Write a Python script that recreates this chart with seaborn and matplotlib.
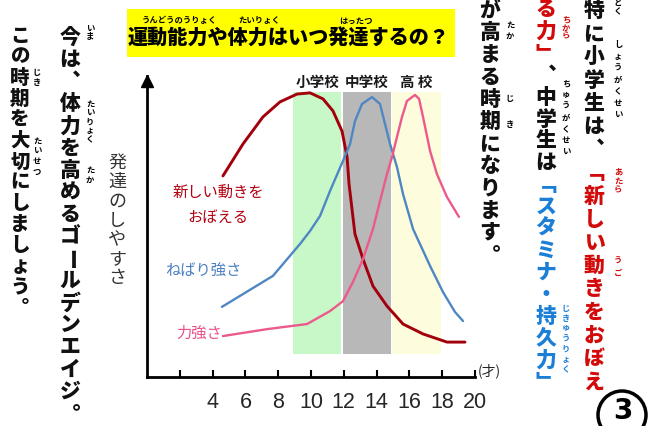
import matplotlib
matplotlib.use("Agg")
import matplotlib.pyplot as plt
import seaborn as sns
import pandas as pd
from matplotlib.patches import Rectangle, Ellipse

# ---------------------------------------------------------------- data
# ease of development (0-100) by age for each ability
motor_age = [4.63, 5.85, 7.07, 8.11, 9.15, 9.94, 10.73, 11.34, 11.89, 12.20, 12.32,
             12.68, 13.17, 13.78, 14.63, 15.61, 16.83, 18.29, 19.39]
motor_val = [66.8, 77.4, 86.4, 91.4, 94.0, 94.4, 92.4, 88.4, 81.7, 73.1, 64.1,
             47.5, 39.2, 30.2, 23.6, 17.6, 14.3, 11.6, 11.6]

stamina_age = [4.57, 7.68, 9.33, 9.94, 10.55, 11.16, 11.95, 12.38, 12.68, 13.11, 13.72,
               14.21, 14.51, 14.82, 15.24, 15.61, 16.22, 17.26, 18.05, 18.78, 19.27]
stamina_val = [23.3, 33.6, 44.2, 48.5, 53.5, 61.8, 71.8, 77.4, 85.0, 90.7, 93.0,
               90.7, 84.1, 77.4, 69.8, 60.8, 49.2, 36.9, 28.2, 21.6, 18.6]

power_age = [4.63, 7.32, 9.76, 11.16, 11.95, 12.56, 13.17, 13.78, 14.21, 14.63, 14.94,
             15.24, 15.55, 15.85, 16.34, 16.59, 16.83, 17.26, 17.68, 18.29, 19.02]
power_val = [13.6, 15.9, 17.6, 21.9, 25.2, 31.6, 39.2, 49.2, 58.5, 67.4, 73.1,
             79.7, 86.4, 91.7, 93.7, 92.4, 86.4, 75.1, 67.4, 59.8, 53.2]

series_names = ["新しい動きをおぼえる", "ねばり強さ", "力強さ"]
series_colors = ["#a3000c", "#4f87c2", "#eb5a8b"]

school_labels = ["小学校", "中学校", "高 校"]
school_start = [8.9, 11.95, 14.95]
school_end = [11.85, 14.9, 17.9]
school_colors = ["#c8f8c8", "#b8b8b8", "#fdfcdc"]

tick_ages = [2, 4, 6, 8, 10, 12, 14, 16, 18, 20]
tick_labels = ["", "4", "6", "8", "10", "12", "14", "16", "18", "20"]

title = "運動能力や体力はいつ発達するの？"
y_label = "発達のしやすさ"
unit_label = "(才)"

# ---------------------------------------------------------------- style
sns.set_theme(style="white")
JP = ["Noto Sans CJK JP", "DejaVu Sans"]
plt.rcParams["font.family"] = JP

W, H = 648, 427
fig = plt.figure(figsize=(W / 100, H / 100), dpi=100)
fig.patch.set_facecolor("white")


def fx(px):
    return px / W


def fy(py):
    return 1 - py / H


# ---------------------------------------------------------------- chart
ax = fig.add_axes([fx(147), fy(378), 328 / W, 301 / H])
ax.set_xlim(0, 20)
ax.set_ylim(0, 100)
ax.set_facecolor("none")

for x0, x1, c in zip(school_start, school_end, school_colors):
    ax.axvspan(x0, x1, ymin=0.076, ymax=0.947, color=c, lw=0, zorder=0)

frames = []
for name, a, v in zip(series_names, [motor_age, stamina_age, power_age],
                      [motor_val, stamina_val, power_val]):
    frames.append(pd.DataFrame({"age": a, "value": v, "series": name}))
df = pd.concat(frames, ignore_index=True)

sns.lineplot(data=df, x="age", y="value", hue="series",
             palette=dict(zip(series_names, series_colors)),
             linewidth=1.7, legend=False, ax=ax, zorder=3)
for line, lw in zip(ax.get_lines(), [2.1, 1.7, 1.7]):
    line.set_linewidth(lw)

for lab, x0, x1 in zip(school_labels, school_start, school_end):
    ax.text((x0 + x1) / 2, 98.5, lab, ha="center", va="center",
            fontsize=10.5, color="#1a1a1a", fontweight="bold")

ax.text(4.35, 61.6, "新しい動きを", ha="center", va="center",
        fontsize=11, color="#b30010")
ax.text(4.35, 53.3, "おぼえる", ha="center", va="center",
        fontsize=11, color="#b30010")
ax.text(3.44, 35.9, series_names[1], ha="center", va="center",
        fontsize=11, color="#4a7fc0")
ax.text(3.2, 15.0, series_names[2], ha="center", va="center",
        fontsize=11, color="#e8508a")

for side in ["top", "right"]:
    ax.spines[side].set_visible(False)
for side in ["left", "bottom"]:
    ax.spines[side].set_color("black")
    ax.spines[side].set_linewidth(2)
ax.set_yticks([])
ax.set_xticks(tick_ages)
ax.set_xticklabels(tick_labels, fontsize=15.5,
                   family=["Liberation Sans", "DejaVu Sans"])
ax.tick_params(axis="x", direction="in", length=5, width=1.5, color="black",
               pad=10, bottom=True)
ax.set_xlabel("")
ax.set_ylabel("")
ax.plot([0], [98.4], marker="^", ms=9, color="black", clip_on=False, zorder=5)
ax.text(20.9, 2.3, unit_label, ha="center", va="center", fontsize=10,
        color="#222222")

# ---------------------------------------------------------------- title box
fig.add_artist(Rectangle((fx(127), fy(58)), 328 / W, 48 / H,
                         transform=fig.transFigure, fc="#ffff00", ec="none"))
fig.text(fx(289), fy(39), title, ha="center", va="center",
         fontsize=14.5, fontweight="heavy", color="black")
for txt, cx in [("うんどうのうりょく", 179), ("たいりょく", 259), ("はったつ", 356)]:
    fig.text(fx(cx), fy(21), txt, ha="center", va="center",
             fontsize=6, fontweight="bold", color="black")

# ---------------------------------------------------------------- vertical text
# vertical presentation forms for punctuation and brackets
VFORM = {"、": "\ufe11", "。": "\ufe12", "「": "\ufe41", "」": "\ufe42"}
ROT = {"ー": -90}


def vcolumn(x, y0, step, segments, size=15, weight="heavy"):
    i = 0
    for text, color in segments:
        for ch in text:
            y = y0 + i * step
            fig.text(fx(x), fy(y), VFORM.get(ch, ch), rotation=ROT.get(ch, 0),
                     ha="center", va="center", fontsize=size,
                     fontweight=weight, color=color)
            i += 1


def ruby(x, y_start, y_end, text, color="black", size=6):
    n = len(text)
    step = (y_end - y_start) / max(n - 1, 1)
    for i, ch in enumerate(text):
        fig.text(fx(x), fy(y_start + i * step), ch, ha="center", va="center",
                 fontsize=size, fontweight="bold", color=color)


BLACK, RED, BLUE = "#111111", "#d20a0a", "#1c7fd6"

# left side
vcolumn(70, 38, 22.1, [("今は、体力を高めるゴールデンエイジ。", BLACK)])
ruby(90, 29, 37, "いま")
ruby(90, 104, 140, "たいりょく")
ruby(90, 170, 180, "たか")
vcolumn(20, 36, 21.0, [("この時期を大切にしましょう。", BLACK)], size=14)
ruby(37, 72, 82, "じき")
ruby(37, 141, 172, "たいせつ")
vcolumn(117, 163, 19.2, [(y_label, "#333333")], size=13, weight="normal")

# right side
vcolumn(594, 11, 23.2, [("特に小学生は、", BLACK), ("「新しい動きをおぼえ", RED)])
ruby(618, 4, 12, "とく")
ruby(618, 45, 115, "しょうがくせい")
ruby(618, 172, 190, "あたら", RED)
ruby(618, 261, 273, "うご", RED)

vcolumn(546, 10, 21.9, [("る力」", RED), ("、中学生は", BLACK),
                        ("「スタミナ・持久力」", BLUE)])
ruby(566, 20, 36, "ちから", RED)
ruby(566, 84, 152, "ちゅうがくせい")
ruby(566, 308, 370, "じきゅうりょく", BLUE)

vcolumn(490, 11, 22.2, [("が高まる時期になります。", BLACK)])
ruby(510, 25, 36, "たか")
ruby(510, 98, 125, "じき")

# page number
fig.add_artist(Ellipse((fx(622), fy(416)), 48 / W, 48 / H,
                       transform=fig.transFigure, fc="white", ec="black", lw=2.5))
fig.text(fx(623), fy(411), "3", ha="center", va="center", fontsize=20,
         fontweight="bold", family="DejaVu Sans", color="black")

fig.savefig("out.png", dpi=100)
